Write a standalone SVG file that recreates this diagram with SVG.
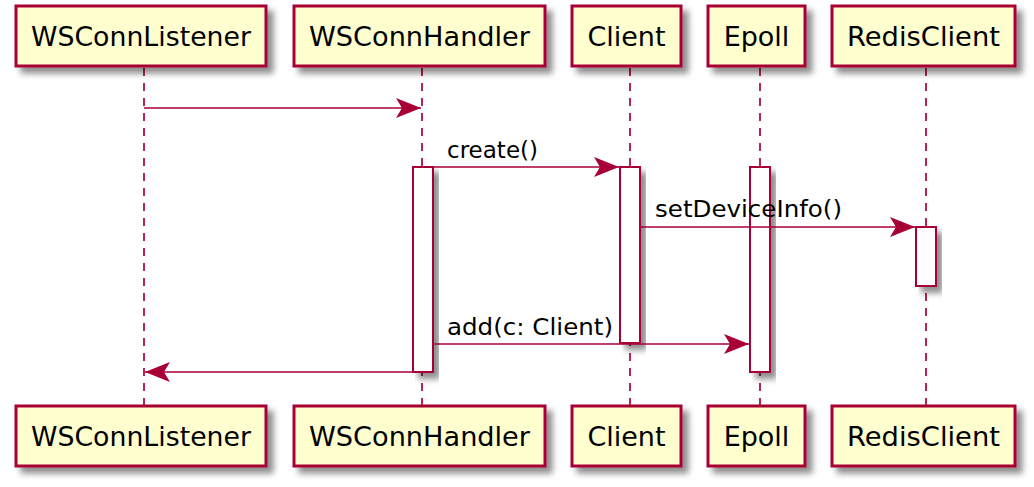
<svg xmlns="http://www.w3.org/2000/svg" width="1034" height="487" viewBox="0 0 1034 487">
<defs>
<filter id="sh" x="-20%" y="-20%" width="150%" height="160%">
<feGaussianBlur in="SourceAlpha" stdDeviation="3"/>
<feOffset dx="6" dy="6" result="b"/>
<feComponentTransfer><feFuncA type="linear" slope="0.45"/></feComponentTransfer>
<feMerge><feMergeNode/><feMergeNode in="SourceGraphic"/></feMerge>
</filter>
<marker id="ah" viewBox="0 0 26 22" refX="25" refY="11" markerWidth="26" markerHeight="22" markerUnits="userSpaceOnUse" orient="auto">
<polygon points="0,1 25,11 0,21 6,11" fill="#A80036"/>
</marker>
</defs>
<style>
.box{fill:#FEFECE;stroke:#A80036;stroke-width:3;}
.act{fill:#FFFFFF;stroke:#A80036;stroke-width:2;}
.life{stroke:#A80036;stroke-width:1.7;stroke-dasharray:8,7;fill:none;}
.msg{stroke:#A80036;stroke-width:1.7;fill:none;marker-end:url(#ah);}
.pt{font-family:"DejaVu Sans",sans-serif;font-size:27px;fill:#000;text-anchor:middle;}
.ml{font-family:"DejaVu Sans",sans-serif;font-size:22.5px;fill:#000;}
</style>
<g id="lifelines">
<line class="life" x1="144" y1="68" x2="144" y2="406"/>
<line class="life" x1="422" y1="68" x2="422" y2="406"/>
<line class="life" x1="630" y1="68" x2="630" y2="406"/>
<line class="life" x1="760" y1="68" x2="760" y2="406"/>
<line class="life" x1="926" y1="68" x2="926" y2="406"/>
</g>
<g id="WSConnListener">
<rect class="box" x="16" y="6" width="250" height="60" filter="url(#sh)"/>
<text class="pt" x="141" y="46" textLength="220" lengthAdjust="spacingAndGlyphs">WSConnListener</text>
<rect class="box" x="16" y="406" width="250" height="60" filter="url(#sh)"/>
<text class="pt" x="141" y="446" textLength="220" lengthAdjust="spacingAndGlyphs">WSConnListener</text>
</g>
<g id="WSConnHandler">
<rect class="box" x="294" y="6" width="251" height="60" filter="url(#sh)"/>
<text class="pt" x="419.5" y="46" textLength="221" lengthAdjust="spacingAndGlyphs">WSConnHandler</text>
<rect class="box" x="294" y="406" width="251" height="60" filter="url(#sh)"/>
<text class="pt" x="419.5" y="446" textLength="221" lengthAdjust="spacingAndGlyphs">WSConnHandler</text>
<rect class="act" x="413" y="167" width="20" height="205" filter="url(#sh)"/>
</g>
<g id="Client">
<rect class="box" x="572" y="6" width="109" height="60" filter="url(#sh)"/>
<text class="pt" x="626.5" y="46">Client</text>
<rect class="box" x="572" y="406" width="109" height="60" filter="url(#sh)"/>
<text class="pt" x="626.5" y="446">Client</text>
<rect class="act" x="620" y="167" width="20" height="176" filter="url(#sh)"/>
</g>
<g id="Epoll">
<rect class="box" x="708" y="6" width="97" height="60" filter="url(#sh)"/>
<text class="pt" x="756.5" y="46">Epoll</text>
<rect class="box" x="708" y="406" width="97" height="60" filter="url(#sh)"/>
<text class="pt" x="756.5" y="446">Epoll</text>
<rect class="act" x="750" y="167" width="20" height="205" filter="url(#sh)"/>
</g>
<g id="RedisClient">
<rect class="box" x="832" y="6" width="183" height="60" filter="url(#sh)"/>
<text class="pt" x="923.5" y="46" textLength="153" lengthAdjust="spacingAndGlyphs">RedisClient</text>
<rect class="box" x="832" y="406" width="183" height="60" filter="url(#sh)"/>
<text class="pt" x="923.5" y="446" textLength="153" lengthAdjust="spacingAndGlyphs">RedisClient</text>
<rect class="act" x="916" y="227" width="20" height="59" filter="url(#sh)"/>
</g>
<g id="connectors">
<line class="msg" x1="144" y1="108" x2="421" y2="108"/>
<line class="msg" x1="433" y1="167" x2="619" y2="167"/>
<text class="ml" x="447" y="158" textLength="91" lengthAdjust="spacingAndGlyphs">create()</text>
<line class="msg" x1="640" y1="227" x2="915" y2="227"/>
<text class="ml" x="655" y="217" textLength="187" lengthAdjust="spacingAndGlyphs">setDeviceInfo()</text>
<line class="msg" x1="433" y1="344" x2="749" y2="344"/>
<text class="ml" x="447" y="335" textLength="166" lengthAdjust="spacingAndGlyphs">add(c: Client)</text>
<line class="msg" x1="413" y1="372" x2="145" y2="372"/>
</g>
</svg>
